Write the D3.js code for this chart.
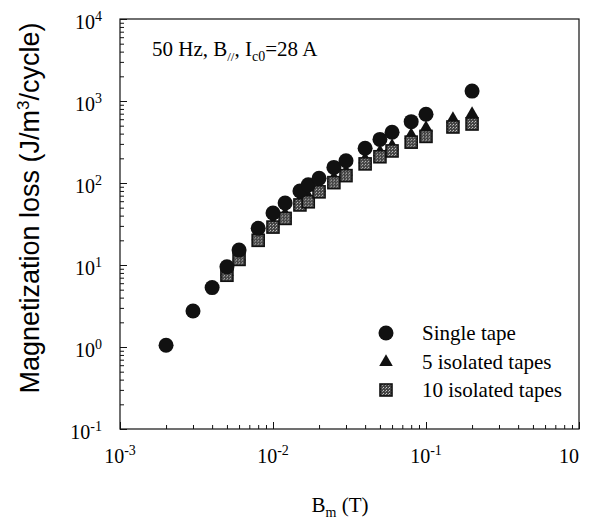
<!DOCTYPE html>
<html>
<head>
<meta charset="utf-8">
<script src="https://cdn.jsdelivr.net/npm/d3@7"></script>
<style>
  body { margin: 0; background: #fff; }
</style>
</head>
<body>
<script>
// magnetic field amplitude (T) for each series
const singleX = [0.002, 0.003, 0.004, 0.005, 0.006, 0.008, 0.01, 0.012, 0.015, 0.017, 0.02, 0.025, 0.03, 0.04, 0.05, 0.06, 0.08, 0.1, 0.2];
const isolatedX = [0.005, 0.006, 0.008, 0.01, 0.012, 0.015, 0.017, 0.02, 0.025, 0.03, 0.04, 0.05, 0.06, 0.08, 0.1, 0.15, 0.2];

// magnetization loss (J/m3/cycle)
const singleLoss = [1.05, 2.75, 5.3, 9.5, 15.2, 28, 43, 57, 80, 95, 114, 155, 187, 265, 340, 415, 560, 690, 1320];
const fiveLoss = [8.5, 13, 23, 33, 43, 62, 70, 90, 118, 142, 200, 245, 290, 396, 480, 620, 714];
const tenLoss = [7.5, 11.7, 20, 29, 37, 54, 59, 78, 101, 123, 171, 209, 246, 315, 370, 482, 524];

// tick labels
const xTicks = [1e-3, 1e-2, 1e-1, 1];
const xTickExp = ['-3', '-2', '-1', ''];
const yTicks = [1e-1, 1, 10, 100, 1000, 10000];
const yTickExp = ['-1', '0', '1', '2', '3', '4'];

const legendNames = ['Single tape', '5 isolated tapes', '10 isolated tapes'];

const width = 589;
const height = 526;
const plot = { left: 120, right: 579, top: 19, bottom: 429 };
const serif = '"Liberation Serif", "Times New Roman", serif';

const x = d3.scaleLog().domain([1e-3, 1]).range([plot.left, plot.right]);
const y = d3.scaleLog().domain([1e-1, 1e4]).range([plot.bottom, plot.top]);

const svg = d3
  .create('svg')
  .attr('width', width)
  .attr('height', height)
  .style('font-family', serif);

// speckled grey fill for the squares
const pat = svg.append('defs')
  .append('pattern')
  .attr('id', 'speckle')
  .attr('width', 3)
  .attr('height', 3)
  .attr('patternUnits', 'userSpaceOnUse');
pat.append('rect').attr('width', 3).attr('height', 3).attr('fill', '#444');
pat.append('rect').attr('width', 1).attr('height', 1).attr('fill', '#ccc');
pat.append('rect').attr('x', 2).attr('y', 1).attr('width', 1).attr('height', 1).attr('fill', '#999');

// frame
svg.append('rect')
  .attr('x', plot.left)
  .attr('y', plot.top)
  .attr('width', plot.right - plot.left)
  .attr('height', plot.bottom - plot.top)
  .attr('fill', 'none')
  .attr('stroke', '#111')
  .attr('stroke-width', 1.2);

// inward ticks on bottom and left, majors longer than minors
const isMajor = (v) => Math.abs(Math.log10(v) - Math.round(Math.log10(v))) < 1e-6;
const xMinor = x.ticks().filter((v) => !isMajor(v));
const yMinor = y.ticks().filter((v) => !isMajor(v));

function drawAxis(axis, transform) {
  const g = svg.append('g').attr('transform', transform).call(axis);
  g.select('.domain').remove();
  g.selectAll('line').attr('stroke', '#111');
}
drawAxis(d3.axisBottom(x).tickValues(xTicks).tickSize(-7).tickFormat(''), `translate(0,${plot.bottom})`);
drawAxis(d3.axisBottom(x).tickValues(xMinor).tickSize(-4).tickFormat(''), `translate(0,${plot.bottom})`);
drawAxis(d3.axisLeft(y).tickValues(yTicks).tickSize(-7).tickFormat(''), `translate(${plot.left},0)`);
drawAxis(d3.axisLeft(y).tickValues(yMinor).tickSize(-4).tickFormat(''), `translate(${plot.left},0)`);

// x tick labels (the last one sits flush with the right edge)
const xl = svg.selectAll('.x-label')
  .data(xTicks)
  .join('text')
  .attr('class', 'x-label')
  .attr('x', (d) => x(d))
  .attr('y', 463)
  .attr('text-anchor', (d, i) => (i === xTicks.length - 1 ? 'end' : 'middle'))
  .style('font-size', '20px');
xl.append('tspan').text('10');
xl.append('tspan')
  .attr('dy', -8)
  .style('font-size', '14px')
  .text((d, i) => xTickExp[i]);

// y tick labels
const yl = svg.selectAll('.y-label')
  .data(yTicks)
  .join('text')
  .attr('class', 'y-label')
  .attr('x', 102)
  .attr('y', (d) => y(d) + 10)
  .attr('text-anchor', 'end')
  .style('font-size', '20px');
yl.append('tspan').text('10');
yl.append('tspan')
  .attr('dy', -8)
  .style('font-size', '14px')
  .text((d, i) => yTickExp[i]);

// axis titles
const yt = svg.append('text')
  .attr('transform', 'translate(39,208) rotate(-90)')
  .attr('text-anchor', 'middle')
  .style('font-family', '"Liberation Sans", Arial, sans-serif')
  .style('font-size', '27px');
yt.append('tspan').text('Magnetization loss (J/m');
yt.append('tspan').attr('dy', -10).style('font-size', '17px').text('3');
yt.append('tspan').attr('dy', 10).text('/cycle)');

const xt = svg.append('text')
  .attr('x', 340)
  .attr('y', 512)
  .attr('text-anchor', 'middle')
  .style('font-size', '21px');
xt.append('tspan').text('B');
xt.append('tspan').attr('dy', 5).style('font-size', '14px').text('m');
xt.append('tspan').attr('dy', -5).text(' (T)');

// condition note
const note = svg.append('text')
  .attr('x', 152)
  .attr('y', 56)
  .style('font-size', '21px');
note.append('tspan').text('50 Hz, B');
note.append('tspan').attr('dy', 5).style('font-size', '13px').text('//');
note.append('tspan').attr('dy', -5).text(', I');
note.append('tspan').attr('dy', 5).style('font-size', '14px').text('c0');
note.append('tspan').attr('dy', -5).text('=28 A');

// marker shapes
const tri = d3.symbol().type(d3.symbolTriangle).size(80);
const sq = 12;

function triangle(sel) {
  sel.attr('d', tri).attr('fill', '#111');
}
function square(sel) {
  sel.attr('x', -sq / 2).attr('y', -sq / 2)
    .attr('width', sq).attr('height', sq)
    .attr('fill', 'url(#speckle)')
    .attr('stroke', '#111')
    .attr('stroke-width', 1.6);
}

// 5 isolated tapes
svg.append('g')
  .selectAll('path')
  .data(isolatedX)
  .join('path')
  .attr('transform', (d, i) => `translate(${x(d)},${y(fiveLoss[i]) + 1})`)
  .call(triangle);

// 10 isolated tapes
svg.append('g')
  .selectAll('rect')
  .data(isolatedX)
  .join('rect')
  .attr('transform', (d, i) => `translate(${x(d)},${y(tenLoss[i])})`)
  .call(square);

// single tape
svg.append('g')
  .selectAll('circle')
  .data(singleX)
  .join('circle')
  .attr('cx', (d) => x(d))
  .attr('cy', (d, i) => y(singleLoss[i]))
  .attr('r', 7.5)
  .attr('fill', '#111');

// legend
const legend = svg.append('g').attr('transform', 'translate(386,333)');
legend.append('circle').attr('r', 7.5).attr('fill', '#111');
legend.append('path').attr('transform', 'translate(0,29)').call(triangle);
legend.append('rect').attr('transform', 'translate(0,57)').call(square);
legend.selectAll('.legend-text')
  .data(legendNames)
  .join('text')
  .attr('class', 'legend-text')
  .attr('x', 36)
  .attr('y', (d, i) => 7 + i * 28.5)
  .style('font-size', '21px')
  .text((d) => d);

document.body.appendChild(svg.node());
</script>
</body>
</html>
